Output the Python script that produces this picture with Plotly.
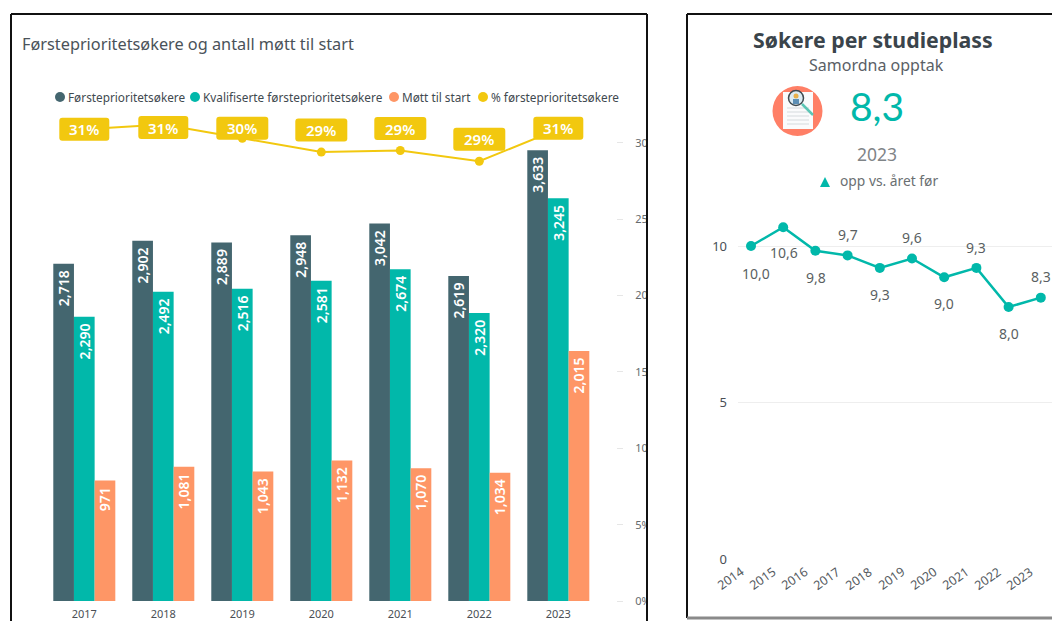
import plotly.graph_objects as go

years = [2017, 2018, 2019, 2020, 2021, 2022, 2023]
forste = [2718, 2902, 2889, 2948, 3042, 2619, 3633]
kvalif = [2290, 2492, 2516, 2581, 2674, 2320, 3245]
mott = [971, 1081, 1043, 1132, 1070, 1034, 2015]
pct = [30.9, 31.2, 30.3, 29.4, 29.5, 28.8, 30.9]
pct_labels = ["31%", "31%", "30%", "29%", "29%", "29%", "31%"]
badge_shift = [0, -3, 10, 22, 22, 22, 1]

years2 = [2014, 2015, 2016, 2017, 2018, 2019, 2020, 2021, 2022, 2023]
soker = [10.0, 10.6, 9.85, 9.7, 9.3, 9.6, 9.0, 9.3, 8.05, 8.35]
soker_labels = ["10,0", "10,6", "9,8", "9,7", "9,3", "9,6", "9,0", "9,3", "8,0", "8,3"]
soker_shift = [-27, -25, -27, 21, -27, 21, -26, 20, -26, 21]
soker_xshift = [5, 1, 1, 0, 0, 0, 0, 0, 0, 0]

legend_names = ["Førsteprioritetsøkere", "Kvalifiserte førsteprioritetsøkere", "Møtt til start", "% førsteprioritetsøkere"]

DARK, TEAL, ORANGE, YELLOW = "#44666F", "#01B8AA", "#FE9666", "#F2C80F"
FONT = "Noto Sans"
W, H = 1052, 621
px = lambda x: x / W
py = lambda y: 1 - y / H

fig = go.Figure()
for vals, col, name in [(forste, DARK, legend_names[0]), (kvalif, TEAL, legend_names[1]), (mott, ORANGE, legend_names[2])]:
    fig.add_trace(go.Bar(
        x=years, y=vals, name=name, marker_color=col, marker_line_width=0,
        text=[f"{v:,}\u00a0" for v in vals], textposition="inside", insidetextanchor="end",
        textangle=-90, constraintext="none",
        textfont=dict(color="white", size=14, family=FONT, weight=600), cliponaxis=False, showlegend=False,
        xaxis="x", yaxis="y"))
fig.add_trace(go.Scatter(
    x=years, y=pct, name=legend_names[3], mode="lines+markers", showlegend=False,
    line=dict(color=YELLOW, width=2), marker=dict(color=YELLOW, size=9),
    xaxis="x", yaxis="y2"))
fig.add_trace(go.Scatter(
    x=years2, y=soker, name="Søkere per studieplass", mode="lines+markers", showlegend=False,
    line=dict(color=TEAL, width=2.5), marker=dict(color=TEAL, size=10),
    xaxis="x2", yaxis="y3"))

ann = []
def text(x, y, t, size, color="#4A4F55", anchor="center", weight=None, family=FONT):
    s = f"<b>{t}</b>" if weight == "b" else t
    ann.append(dict(xref="paper", yref="paper", x=px(x), y=py(y), text=s, showarrow=False,
                    xanchor=anchor, yanchor="middle", font=dict(size=size, color=color, family=family)))

text(20, 44, "Førsteprioritetsøkere og antall møtt til start", 16.3, "#4A5259", "left")
shapes = []
for dotx, name, col in zip([60, 195, 394, 483], legend_names, [DARK, TEAL, ORANGE, YELLOW]):
    shapes.append(dict(type="circle", xref="paper", yref="paper", x0=px(dotx - 5), x1=px(dotx + 5),
                       y0=py(102), y1=py(92), fillcolor=col, line_width=0))
    text(dotx + 6, 97, name, 11.8, "#3F4A50", "left")

# percent badges: rounded boxes sized in pixels and anchored to the line values
for yr, p, lab, sh in zip(years, pct, pct_labels, badge_shift):
    w = 25 if lab == "31%" else 26
    r, hh = 3, 11.5
    t, b = sh + hh, sh - hh
    path = (f"M {-w+r} {b} L {w-r} {b} Q {w} {b} {w} {b+r} L {w} {t-r} Q {w} {t} {w-r} {t} "
            f"L {-w+r} {t} Q {-w} {t} {-w} {t-r} L {-w} {b+r} Q {-w} {b} {-w+r} {b} Z")
    shapes.append(dict(type="path", xref="x", yref="y2", xsizemode="pixel", ysizemode="pixel",
                       xanchor=yr, yanchor=p, path=path, fillcolor=YELLOW, line_width=0, layer="above"))
    ann.append(dict(xref="x", yref="y2", x=yr, y=p, text=lab, showarrow=False, yshift=sh,
                    xanchor="center", yanchor="middle", font=dict(size=15, color="white", family=FONT, weight=600)))

for yr, v, lab, sh, xs in zip(years2, soker, soker_labels, soker_shift, soker_xshift):
    ann.append(dict(xref="x2", yref="y3", x=yr, y=v, text=lab, showarrow=False, yshift=sh, xshift=xs,
                    xanchor="center", yanchor="middle", font=dict(size=14, color="#5A5F62", family=FONT)))

# year labels of the small chart sit left of their points, so they are placed from the x scale
for yr in years2:
    ann.append(dict(xref="x2", yref="paper", x=yr, y=py(578), text=str(yr), showarrow=False, xshift=-21,
                    textangle=-35, xanchor="center", yanchor="middle",
                    font=dict(size=12.5, color="#555B5F", family=FONT)))

text(873, 40, "Søkere per studieplass", 21.3, "#3A444B", weight="b")
text(876, 65, "Samordna opptak", 16, "#5A6066")
text(877, 106, "8,3", 39, TEAL, family="Lato")
text(877, 154, "2023", 17.5, "#7F8487")
text(889, 181, "opp vs. året før", 13.8, "#6A6F72")
shapes.append(dict(type="path", xref="paper", yref="paper",
                   path=f"M {px(820)} {py(187)} L {px(830)} {py(187)} L {px(825)} {py(177)} Z",
                   fillcolor=TEAL, line_width=0))

# icon
def circ(cx, cy, r, **k):
    shapes.append(dict(type="circle", xref="paper", yref="paper", x0=px(cx - r), x1=px(cx + r), y0=py(cy + r), y1=py(cy - r), **k))
def rect(x0, y0, x1, y1, **k):
    shapes.append(dict(type="rect", xref="paper", yref="paper", x0=px(x0), x1=px(x1), y0=py(y1), y1=py(y0), **k))
def seg(x0, y0, x1, y1, **k):
    shapes.append(dict(type="line", xref="paper", yref="paper", x0=px(x0), x1=px(x1), y0=py(y0), y1=py(y1), **k))
circ(797.5, 111, 25, fillcolor="#FF7F66", line_width=0)
rect(783, 92, 813, 129, fillcolor="#FAFBFC", line_width=0)
for ly in [108, 112, 116, 120, 124]:
    seg(787, ly, 809, ly, line=dict(color="#D5DADD", width=1))
seg(802, 104, 813, 115, line=dict(color="#5CC6B5", width=2.5))
circ(796, 98, 7.5, fillcolor="#DCEBF2", line=dict(color="#3F4A50", width=1.5))
circ(796, 96, 2.5, fillcolor="#E8B04A", line_width=0)
rect(793, 99, 799, 104, fillcolor="#5C8FB5", line_width=0)

# white gutter that trims the right-hand axis labels at the panel edge, then frames
rect(647, 0, 687, 621, fillcolor="white", line_width=0, layer="above")
for x0, y0, x1, y1, c, wd in [(11, 14, 647, 14, "#111", 2), (11, 14, 11, 621, "#111", 2), (647, 14, 647, 621, "#111", 2),
                              (687, 14, 1052, 14, "#111", 2), (687, 14, 687, 618, "#111", 2), (687, 618, 1052, 618, "#8A8A8A", 3)]:
    seg(x0, y0, x1, y1, line=dict(color=c, width=wd), layer="above")

px_year = 79.0
x_lo = 2017 - (84.3 - 44.8) / px_year
x_hi = 2017 + (616 - 84.3) / px_year
top, base = 100, 601
r2_px = (559 - 246) / 10.0
fig.update_layout(
    width=W, height=H, autosize=False, margin=dict(l=0, r=0, t=0, b=0, autoexpand=False),
    paper_bgcolor="white", plot_bgcolor="white", barmode="group", bargap=0.215, bargroupgap=0,
    showlegend=False, font=dict(family=FONT), annotations=ann, shapes=shapes,
    xaxis=dict(domain=[px(44.8), px(616)], range=[x_lo, x_hi], tickvals=years, ticks="", showgrid=False, automargin=False,
               zeroline=False, showline=False, tickfont=dict(size=11, color="#4A4F55", family=FONT), ticklabelstandoff=5),
    yaxis=dict(domain=[py(base), py(top)], range=[0, (base - top) / 0.1241], showgrid=False, zeroline=False, automargin=False,
               showticklabels=False, ticks=""),
    yaxis2=dict(domain=[py(base), py(top)], overlaying="y", side="right", anchor="x", range=[0, (base - top) / 15.27],
                tickvals=[0, 5, 10, 15, 20, 25, 30], ticktext=["0%", "5%", "10%", "15%", "20%", "25%", "30%"], automargin=False,
                showgrid=False, zeroline=False, ticks="outside", ticklen=6, tickcolor="#E6E6E6", tickwidth=1,
                ticklabelstandoff=10, tickfont=dict(size=11, color="#666B6E", family=FONT)),
    xaxis2=dict(domain=[px(738), 1], range=[2014 - 13 / 32.2, 2014 + (1052 - 751) / 32.2], anchor="y3", automargin=False,
                tickvals=years2, showticklabels=False, ticks="", showgrid=False, zeroline=False, showline=False),
    yaxis3=dict(domain=[py(559), py(200)], range=[0, (559 - 200) / r2_px], anchor="x2", tickvals=[0, 5, 10], automargin=False,
                showgrid=True, gridcolor="#EEEEEE", zeroline=False, ticks="", ticklabelstandoff=10,
                tickfont=dict(size=13, color="#4A4F55", family=FONT)),
)
fig.write_html("out.html", config={"displayModeBar": False},
               post_script="document.body.style.margin='0';document.documentElement.style.overflow='hidden';")
